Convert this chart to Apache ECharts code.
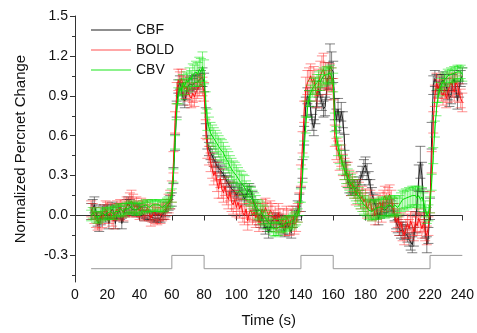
<!DOCTYPE html>
<html><head><meta charset="utf-8">
<script src="https://cdn.jsdelivr.net/npm/echarts@6/dist/echarts.min.js"></script>
<style>html,body{margin:0;padding:0;background:#fff}#c{width:477px;height:333px}</style>
</head><body><div id="c"></div>
<script>
// sampling: t = 10..240 s, 1 s step
const tStart = 10, tStep = 1;
const cbf = [
0.03,0.06,0.08,0.03,-0.03,-0.07,-0.02,0.02,0.03,0.0,
0.03,-0.06,0.02,0.05,0.03,-0.06,0.01,0.04,0.02,-0.06,
0.0,0.04,0.07,0.09,0.07,0.05,0.06,0.04,0.03,0.05,
0.04,0.03,0.02,0.0,0.01,0.0,0.0,-0.01,0.0,-0.02,
-0.01,-0.02,-0.01,-0.02,0.0,0.0,0.03,0.06,0.08,0.1,
0.12,0.3,0.55,0.8,0.97,1.0,0.95,0.88,0.86,0.92,
0.97,0.99,1.0,0.98,1.0,1.01,1.0,1.02,1.03,1.04,
1.0,0.75,0.55,0.5,0.47,0.45,0.42,0.4,0.37,0.36,
0.34,0.33,0.31,0.28,0.26,0.25,0.22,0.2,0.21,0.18,
0.15,0.17,0.19,0.2,0.16,0.12,0.15,0.18,0.2,0.18,
0.14,0.08,0.05,0.0,-0.03,-0.05,0.0,-0.06,-0.1,-0.08,
-0.13,-0.08,-0.04,-0.05,-0.02,-0.05,-0.03,-0.07,-0.05,-0.1,
-0.12,-0.05,-0.04,-0.1,-0.13,-0.05,0.0,0.02,0.05,0.08,
0.12,0.35,0.6,0.82,0.9,0.88,0.8,0.7,0.66,0.75,
0.88,0.95,0.9,0.85,0.8,0.82,0.95,1.05,1.12,1.13,
1.08,0.8,0.72,0.8,0.7,0.78,0.72,0.55,0.35,0.26,
0.22,0.2,0.21,0.22,0.2,0.22,0.24,0.28,0.32,0.36,
0.38,0.33,0.28,0.22,0.16,0.12,0.08,0.05,-0.03,0.02,
0.05,0.06,0.04,0.03,0.06,0.08,0.07,0.05,0.0,-0.05,
-0.08,-0.1,-0.12,-0.1,-0.13,-0.12,-0.15,-0.18,-0.2,-0.22,
-0.16,-0.05,0.1,0.28,0.4,0.3,0.1,-0.1,-0.22,-0.15,
0.05,0.6,0.98,1.03,1.0,0.95,0.98,1.0,1.02,1.0,
0.97,0.93,0.88,0.9,1.0,1.03,0.95,0.86,0.95,1.03,
1.05];
const bold = [
0.05,0.03,0.0,-0.03,-0.05,-0.04,0.0,-0.03,0.02,0.05,
0.04,0.0,0.03,-0.02,-0.04,0.02,0.05,0.03,0.06,0.04,
0.02,0.05,0.07,0.06,0.09,0.11,0.09,0.06,0.08,0.05,
0.03,0.07,0.05,0.02,0.04,0.06,0.02,-0.02,0.01,0.03,
0.0,-0.01,0.02,0.0,0.02,0.04,0.03,0.06,0.09,0.12,
0.18,0.4,0.7,0.92,1.02,1.0,1.03,0.98,0.95,0.97,
0.93,0.9,0.88,0.92,0.89,0.93,0.95,0.97,0.99,0.97,
0.93,0.65,0.5,0.45,0.4,0.35,0.3,0.33,0.25,0.2,
0.28,0.2,0.17,0.22,0.15,0.12,0.18,0.1,0.08,0.12,
0.06,0.1,0.05,0.08,0.02,0.0,0.05,-0.04,0.02,0.04,
0.0,0.03,-0.02,0.02,-0.05,0.0,0.05,0.02,0.06,0.03,
0.0,0.04,0.02,-0.03,0.0,-0.05,0.02,-0.02,-0.06,-0.02,
-0.08,0.0,-0.03,-0.08,-0.02,0.0,-0.07,-0.05,0.02,0.1,
0.3,0.55,0.78,0.95,1.0,1.02,1.05,1.0,1.03,0.95,
0.9,1.0,1.05,1.08,1.1,1.05,1.0,1.03,1.05,1.02,
0.95,0.6,0.5,0.48,0.42,0.45,0.38,0.35,0.3,0.32,
0.27,0.22,0.25,0.2,0.15,0.2,0.18,0.12,0.15,0.1,
0.13,0.05,0.08,0.12,0.03,0.06,0.0,0.04,0.08,0.1,
0.02,0.12,0.15,0.1,0.14,0.16,0.12,0.06,0.02,-0.05,
-0.02,-0.08,-0.05,-0.12,-0.15,-0.1,-0.06,-0.1,-0.04,-0.08,
-0.12,-0.05,-0.08,-0.02,-0.06,-0.1,-0.05,-0.12,-0.15,-0.08,
0.1,0.4,0.7,0.9,1.0,0.95,0.98,0.93,0.9,0.95,
0.88,0.92,0.97,1.0,0.96,0.93,1.0,0.98,0.92,0.88,
0.85];
const cbv = [
0.0,0.02,0.01,-0.01,-0.02,-0.01,0.0,0.02,0.01,0.0,
0.02,0.01,0.03,0.02,0.01,0.03,0.04,0.03,0.05,0.04,
0.03,0.05,0.06,0.05,0.06,0.07,0.05,0.06,0.04,0.05,
0.06,0.05,0.07,0.06,0.08,0.07,0.06,0.07,0.08,0.07,
0.08,0.07,0.08,0.07,0.06,0.07,0.08,0.09,0.1,0.12,
0.15,0.3,0.55,0.78,0.9,0.96,0.93,1.0,0.97,1.02,
1.0,1.04,1.02,1.06,1.05,1.08,1.06,1.1,1.08,1.12,
1.08,0.85,0.72,0.66,0.62,0.6,0.58,0.56,0.54,0.52,
0.5,0.49,0.47,0.44,0.42,0.4,0.37,0.35,0.33,0.32,
0.3,0.28,0.26,0.25,0.23,0.22,0.19,0.17,0.15,0.14,
0.12,0.1,0.08,0.05,0.04,0.03,0.01,0.0,-0.02,-0.04,
-0.05,-0.07,-0.08,-0.1,-0.11,-0.1,-0.1,-0.08,-0.07,-0.08,
-0.06,-0.07,-0.05,-0.06,-0.05,-0.04,-0.03,-0.02,0.0,0.05,
0.15,0.3,0.5,0.68,0.8,0.88,0.92,0.95,0.97,0.98,
1.0,1.02,1.0,1.03,1.05,1.04,1.06,1.05,1.07,1.05,
1.0,0.7,0.6,0.52,0.46,0.42,0.38,0.34,0.31,0.28,
0.26,0.24,0.22,0.2,0.18,0.16,0.14,0.12,0.1,0.08,
0.07,0.06,0.04,0.05,0.03,0.04,0.05,0.04,0.06,0.05,
0.07,0.06,0.05,0.07,0.06,0.08,0.07,0.06,0.08,0.07,
0.06,0.08,0.1,0.12,0.11,0.13,0.12,0.14,0.13,0.15,
0.14,0.15,0.13,0.15,0.12,0.14,0.1,0.05,0.0,0.02,
0.08,0.25,0.45,0.65,0.8,0.9,0.95,0.98,1.0,1.02,
1.03,1.05,1.04,1.06,1.05,1.07,1.06,1.08,1.07,1.08,
1.06];
// error half-widths in hundredths
const cbfErr = [
6,6,6,5,5,5,5,5,5,5, 5,4,5,5,5,4,5,5,5,4, 5,5,5,5,5,4,4,4,4,4, 4,4,4,4,3,3,3,3,3,3,
3,3,3,3,3,3,4,4,4,5, 5,6,6,6,5,5,5,5,5,5, 5,5,5,5,5,5,5,5,6,7, 7,6,5,5,5,5,5,4,4,4,
4,4,4,4,4,4,4,4,4,4, 4,4,4,4,4,4,4,4,4,4, 4,4,4,4,4,4,4,4,4,4, 4,4,4,4,4,4,4,4,4,4,
4,4,4,4,4,4,4,5,6,8, 9,7,7,7,6,6,6,6,6,6, 6,6,6,6,6,7,8,10,17,10, 8,8,8,8,8,7,6,6,5,5,
5,5,5,5,5,5,5,5,5,6, 6,6,5,5,5,4,4,4,4,4, 4,4,4,4,4,4,4,4,4,5, 5,5,5,5,5,5,5,5,6,6,
7,8,9,10,12,10,8,7,6,6, 8,10,7,6,6,6,6,6,6,6, 6,6,6,6,6,6,6,6,6,6, 6];
const boldErr = [
6,6,6,6,6,6,6,6,6,6, 6,6,6,6,6,6,6,6,6,6, 6,6,7,7,8,8,7,7,6,6, 6,6,6,6,6,6,6,6,6,6,
6,6,6,6,6,6,6,6,7,7, 8,8,8,8,8,8,7,7,7,7, 7,7,7,7,7,7,7,7,7,7, 7,7,7,7,7,7,7,7,7,7,
7,7,7,7,7,7,7,7,7,7, 7,7,7,7,7,7,7,7,7,7, 7,7,7,7,7,7,7,7,7,7, 7,7,7,7,7,7,7,7,7,7,
7,7,7,7,7,7,7,7,7,7, 8,8,8,9,9,9,9,9,9,9, 9,10,11,12,12,10,9,9,9,9, 8,8,8,8,8,8,8,8,8,8,
7,7,7,7,7,7,7,7,7,7, 7,7,7,7,7,7,7,7,7,7, 7,7,7,7,7,7,7,7,7,7, 7,7,7,7,7,7,7,7,7,7,
7,7,7,7,7,7,7,7,7,7, 8,8,8,8,7,7,7,7,7,7, 7,7,7,7,7,7,7,7,7,7, 7];
const cbvErr = [
4,4,4,4,4,4,4,4,4,4, 4,4,4,4,4,4,4,4,4,4, 4,4,4,4,4,4,4,4,4,4, 4,4,4,4,4,4,4,4,4,4,
4,4,4,4,4,4,4,4,4,5, 5,5,5,6,6,6,6,6,6,6, 7,7,7,8,8,8,9,9,10,11, 9,8,8,8,8,8,8,8,8,8,
8,8,8,8,8,8,8,8,8,8, 8,8,8,8,8,8,7,7,7,7, 7,7,7,7,7,7,7,7,6,6, 5,5,5,5,5,5,5,5,5,5,
5,5,5,5,5,5,5,5,5,5, 5,5,6,6,6,6,6,6,6,6, 6,6,6,6,6,6,6,6,6,6, 7,7,7,7,7,7,7,7,7,7,
7,7,7,7,7,7,7,7,7,7, 7,7,7,7,7,7,7,7,7,7, 7,7,7,7,7,7,7,7,7,7, 7,7,7,7,7,7,7,7,7,7,
7,7,7,7,7,7,7,6,6,6, 6,6,6,6,5,5,5,5,5,5, 5,5,5,5,5,5,5,5,5,5, 5];
// stimulus block trace
const stimT = [10, 60, 60, 80, 80, 140, 140, 160, 160, 220, 220, 240];
const stimV = [-0.4, -0.4, -0.3, -0.3, -0.4, -0.4, -0.3, -0.3, -0.4, -0.4, -0.3, -0.3];
const yLabels = [-0.3, 0.0, 0.3, 0.6, 0.9, 1.2, 1.5];
const yMinor = [-0.45, -0.15, 0.15, 0.45, 0.75, 1.05, 1.35];
const legendNames = ['CBF', 'BOLD', 'CBV'];
const legendColors = ['#6a6a6a', '#ff8a8a', '#66ee66'];

const FONT = 'Liberation Sans, Arial, sans-serif';
function pts(vals){ return vals.map((v,i)=>[tStart+i*tStep, v]); }
function errPts(vals, errs){ return vals.map((v,i)=>[tStart+i*tStep, v, errs[i]/100]); }
function errRender(color){
  return function(params, api){
    const x = api.value(0), y = api.value(1), e = api.value(2);
    const a = api.coord([x, y+e]), b = api.coord([x, y-e]);
    const hw = 5, st = {stroke: color, lineWidth: 1};
    return {type:'group', children:[
      {type:'line', shape:{x1:a[0],y1:a[1],x2:b[0],y2:b[1]}, style:st},
      {type:'line', shape:{x1:a[0]-hw,y1:a[1],x2:a[0]+hw,y2:a[1]}, style:st},
      {type:'line', shape:{x1:b[0]-hw,y1:b[1],x2:b[0]+hw,y2:b[1]}, style:st}
    ]};
  };
}
const chart = echarts.init(document.getElementById('c'), null, {renderer:'canvas'});
const yBase = {type:'value', min:-0.5, max:1.5, position:'left', splitLine:{show:false}};
chart.setOption({
  animation:false,
  backgroundColor:'#fff',
  textStyle:{fontFamily:FONT},
  grid:{left:75, right:13, top:16, bottom:45},
  legend:{
    data:legendNames.map((n,i)=>({name:n, icon:'rect', itemStyle:{color:legendColors[i]}})),
    orient:'vertical', left:86, top:17,
    itemWidth:40, itemHeight:1.5, itemGap:4,
    textStyle:{fontFamily:FONT, fontSize:14, color:'#111', lineHeight:16}
  },
  xAxis:{
    type:'value', min:0, max:240, interval:20,
    name:'Time (s)', nameLocation:'middle', nameGap:31,
    nameTextStyle:{fontFamily:FONT, fontSize:15, color:'#111'},
    axisLine:{lineStyle:{color:'#333'}},
    axisTick:{length:5, lineStyle:{color:'#333'}},
    axisLabel:{fontFamily:FONT, fontSize:14, color:'#111', margin:6},
    splitLine:{show:false}
  },
  yAxis:[
    Object.assign({}, yBase, {
      name:'Normalized Percnet Change', nameLocation:'middle', nameGap:47,
      nameTextStyle:{fontFamily:FONT, fontSize:15, color:'#111'},
      axisLine:{show:true, lineStyle:{color:'#333'}},
      axisTick:{show:true, length:5, lineStyle:{color:'#333'}, customValues:yLabels},
      axisLabel:{fontFamily:FONT, fontSize:14, color:'#111', margin:7, customValues:yLabels,
        formatter:v=>Number(v).toFixed(1)}
    }),
    Object.assign({}, yBase, {
      axisLine:{show:false},
      axisTick:{show:true, length:3, lineStyle:{color:'#333'}, customValues:yMinor},
      axisLabel:{show:false}
    })
  ],
  series:[
    {name:'stim', type:'line', data:stimT.map((t,i)=>[t, stimV[i]]), symbol:'none',
     lineStyle:{color:'#999', width:1}, silent:true, z:1},
    {name:'CBF err', type:'custom', renderItem:errRender('rgba(30,30,30,0.55)'),
     data:errPts(cbf, cbfErr), encode:{x:0,y:1}, z:2},
    {name:'CBF', type:'line', data:pts(cbf), symbol:'none', showSymbol:false,
     lineStyle:{color:'#222', width:1}, itemStyle:{color:'#222'}, z:3},
    {name:'BOLD err', type:'custom', renderItem:errRender('rgba(255,40,40,0.5)'),
     data:errPts(bold, boldErr), encode:{x:0,y:1}, z:4},
    {name:'BOLD', type:'line', data:pts(bold), symbol:'none', showSymbol:false,
     lineStyle:{color:'#ff1010', width:1}, itemStyle:{color:'#ff1010'}, z:5},
    {name:'CBV err', type:'custom', renderItem:errRender('rgba(20,230,20,0.55)'),
     data:errPts(cbv, cbvErr), encode:{x:0,y:1}, z:6},
    {name:'CBV', type:'line', data:pts(cbv), symbol:'none', showSymbol:false,
     lineStyle:{color:'#00e000', width:1}, itemStyle:{color:'#00e000'}, z:7}
  ]
});
</script></body></html>
